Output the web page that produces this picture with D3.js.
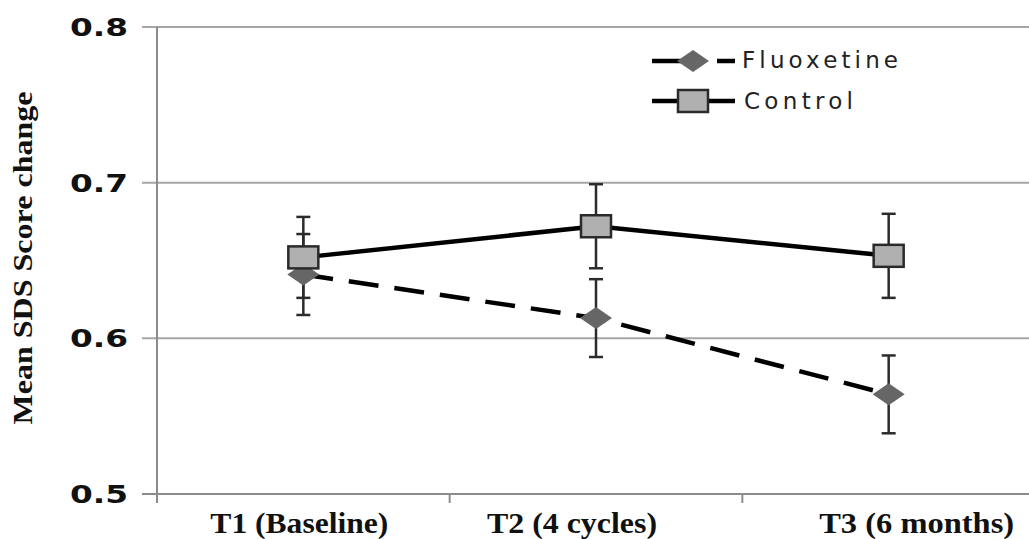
<!DOCTYPE html>
<html>
<head>
<meta charset="utf-8">
<script src="https://cdn.jsdelivr.net/npm/d3@7"></script>
<style>
  body { margin: 0; background: #fff; }
  svg { display: block; }
</style>
</head>
<body>
<div id="chart"></div>
<script>
var width = 1029,
    height = 539;

// data
var timepoints = ["T1 (Baseline)", "T2 (4 cycles)", "T3 (6 months)"];
var fluoxetineMean = [0.641, 0.613, 0.564];
var fluoxetineErr = [0.026, 0.025, 0.025];
var controlMean = [0.652, 0.672, 0.653];
var controlErr = [0.026, 0.027, 0.027];
var yTicks = [0.5, 0.6, 0.7, 0.8];

// label nudges, the original labels are not centred on their bands
var labelShift = [-4, -24, 28];
var labelWidth = [178, 170, 195];

var x = d3.scaleBand().domain(timepoints).range([157, 1035]);
var y = d3.scaleLinear().domain([0.5, 0.8]).range([494, 27]);

var svg = d3.select("#chart").append("svg")
    .attr("width", width)
    .attr("height", height);

// horizontal grid
svg.selectAll(".grid")
    .data(yTicks)
    .enter().append("line")
    .attr("x1", 142)
    .attr("x2", width)
    .attr("y1", function(d) { return y(d); })
    .attr("y2", function(d) { return y(d); })
    .attr("stroke", function(d) { return d == 0.5 ? "#8c8c8c" : "#a6a6a6"; })
    .attr("stroke-width", 2);

// y axis line
svg.append("line")
    .attr("x1", 157).attr("x2", 157)
    .attr("y1", y(0.8)).attr("y2", y(0.5) + 9)
    .attr("stroke", "#8c8c8c")
    .attr("stroke-width", 2);

// x ticks on band edges
svg.selectAll(".xtick")
    .data(timepoints.slice(1))
    .enter().append("line")
    .attr("x1", function(d) { return x(d); })
    .attr("x2", function(d) { return x(d); })
    .attr("y1", y(0.5))
    .attr("y2", y(0.5) + 9)
    .attr("stroke", "#8c8c8c")
    .attr("stroke-width", 2);

// y tick labels
svg.selectAll(".ylab")
    .data(yTicks)
    .enter().append("text")
    .attr("x", 70)
    .attr("y", function(d) { return y(d) + 9; })
    .attr("font-family", "DejaVu Sans")
    .attr("font-weight", "bold")
    .attr("font-size", 25)
    .attr("textLength", 58)
    .attr("lengthAdjust", "spacingAndGlyphs")
    .attr("fill", "#111")
    .text(function(d) { return d3.format(".1f")(d); });

// x labels
svg.selectAll(".xlab")
    .data(timepoints)
    .enter().append("text")
    .attr("x", function(d, i) { return x(d) + x.bandwidth() / 2 + labelShift[i] - labelWidth[i] / 2; })
    .attr("y", 533)
    .attr("font-family", "Liberation Serif")
    .attr("font-weight", "bold")
    .attr("font-size", 30)
    .attr("textLength", function(d, i) { return labelWidth[i]; })
    .attr("lengthAdjust", "spacingAndGlyphs")
    .attr("fill", "#111")
    .text(function(d) { return d; });

// y axis title
svg.append("text")
    .attr("transform", "translate(32,258) rotate(-90)")
    .attr("text-anchor", "middle")
    .attr("font-family", "Liberation Serif")
    .attr("font-weight", "bold")
    .attr("font-size", 28)
    .attr("textLength", 333)
    .attr("lengthAdjust", "spacingAndGlyphs")
    .attr("fill", "#111")
    .text("Mean SDS Score change");

var cx = function(i) { return x(timepoints[i]) + x.bandwidth() / 2; };

var line = d3.line()
    .x(function(d, i) { return cx(i); })
    .y(function(d) { return y(d); });

function errorBars(means, errs) {
  var g = svg.append("g");
  means.forEach(function(m, i) {
    var top = y(m + errs[i]), bot = y(m - errs[i]);
    g.append("line")
      .attr("x1", cx(i)).attr("x2", cx(i))
      .attr("y1", top).attr("y2", bot)
      .attr("stroke", "#2b2b2b").attr("stroke-width", 2.5);
    [top, bot].forEach(function(yy) {
      g.append("line")
        .attr("x1", cx(i) - 7).attr("x2", cx(i) + 7)
        .attr("y1", yy).attr("y2", yy)
        .attr("stroke", "#2b2b2b").attr("stroke-width", 2.5);
    });
  });
}

errorBars(fluoxetineMean, fluoxetineErr);
errorBars(controlMean, controlErr);

// fluoxetine dashed line + diamonds
svg.append("path")
    .datum(fluoxetineMean)
    .attr("d", line)
    .attr("fill", "none")
    .attr("stroke", "#000")
    .attr("stroke-width", 4.5)
    .attr("stroke-dasharray", "30,16");

function diamond(g, px, py) {
  g.append("path")
    .attr("d", "M" + (px - 16) + "," + py + "L" + px + "," + (py - 11) + "L" + (px + 16) + "," + py + "L" + px + "," + (py + 11) + "Z")
    .attr("fill", "#666");
}

fluoxetineMean.forEach(function(m, i) { diamond(svg, cx(i), y(m)); });

// control solid line + squares
svg.append("path")
    .datum(controlMean)
    .attr("d", line)
    .attr("fill", "none")
    .attr("stroke", "#000")
    .attr("stroke-width", 4.5);

function square(g, px, py) {
  g.append("rect")
    .attr("x", px - 15).attr("y", py - 11)
    .attr("width", 30).attr("height", 22)
    .attr("fill", "#b0b0b0")
    .attr("stroke", "#2a2a2a")
    .attr("stroke-width", 2.5);
}

controlMean.forEach(function(m, i) { square(svg, cx(i), y(m)); });

// legend
var legend = svg.append("g");
legend.append("line")
    .attr("x1", 652).attr("x2", 735).attr("y1", 61).attr("y2", 61)
    .attr("stroke", "#000").attr("stroke-width", 4.5)
    .attr("stroke-dasharray", "33,32,18");
diamond(legend, 693, 61);
legend.append("text")
    .attr("x", 742).attr("y", 68)
    .attr("font-family", "DejaVu Sans")
    .attr("font-size", 23)
    .attr("textLength", 156)
    .attr("lengthAdjust", "spacing")
    .attr("fill", "#222")
    .text("Fluoxetine");

legend.append("line")
    .attr("x1", 652).attr("x2", 735).attr("y1", 101).attr("y2", 101)
    .attr("stroke", "#000").attr("stroke-width", 4.5);
square(legend, 693, 101);
legend.append("text")
    .attr("x", 744).attr("y", 109)
    .attr("font-family", "DejaVu Sans")
    .attr("font-size", 23)
    .attr("textLength", 109)
    .attr("lengthAdjust", "spacing")
    .attr("fill", "#222")
    .text("Control");
</script>
</body>
</html>
